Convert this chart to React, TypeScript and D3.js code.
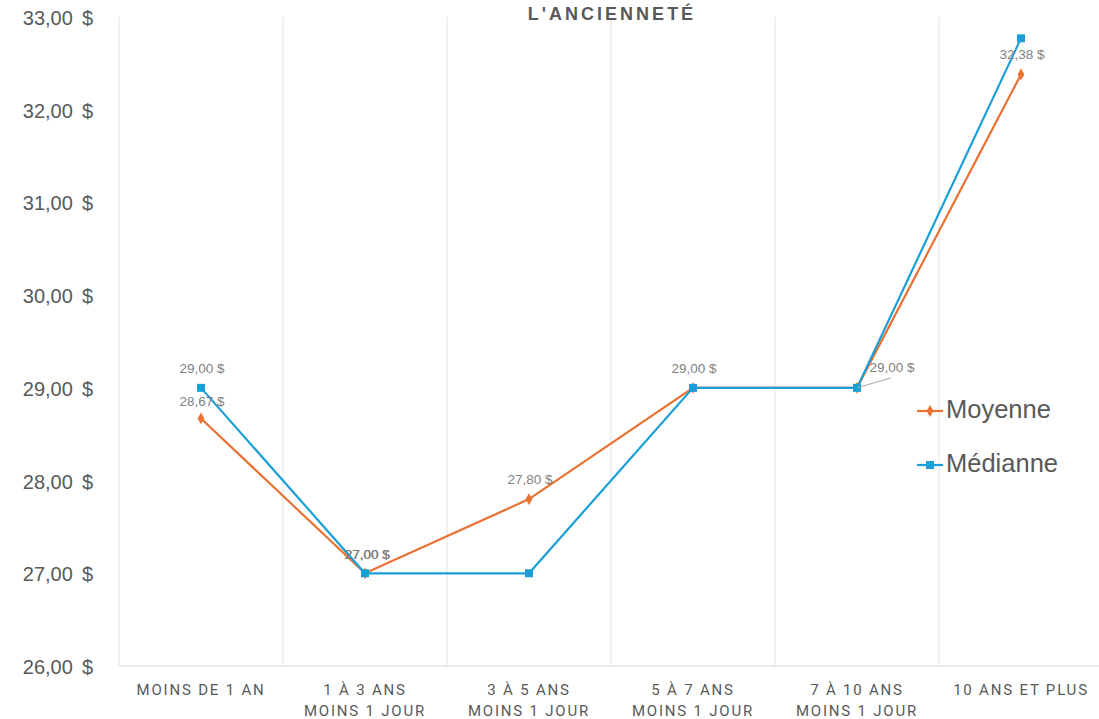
import React, { useEffect, useRef } from "react";
import * as d3 from "d3";

const categories = [
  ["MOINS DE 1 AN"],
  ["1 À 3 ANS", "MOINS 1 JOUR"],
  ["3 À 5 ANS", "MOINS 1 JOUR"],
  ["5 À 7 ANS", "MOINS 1 JOUR"],
  ["7 À 10 ANS", "MOINS 1 JOUR"],
  ["10 ANS ET PLUS"],
];
const moyenne = [28.67, 27.0, 27.8, 29.0, 29.0, 32.38];
const mediane = [29.0, 27.0, 27.0, 29.0, 29.0, 32.77];
const yTicks = [26, 27, 28, 29, 30, 31, 32, 33];

const W = 1099;
const H = 719;
const ORANGE = "#E97132";
const BLUE = "#1A9FD8";
const GREY = "#595959";

const num = (v: number) => v.toFixed(2).replace(".", ",");
const fmt = (v: number) => num(v) + " $";

const App = () => {
  const ref = useRef<SVGSVGElement>(null);

  useEffect(() => {
    const svg = d3.select(ref.current);
    svg.selectAll("*").remove();

    const x = d3.scaleBand<number>().domain(d3.range(categories.length)).range([119, 1103]);
    const cx = (i: number) => (x(i) as number) + x.bandwidth() / 2;
    const y = d3.scaleLinear().domain([26, 33]).range([666, 17]);

    // vertical gridlines
    svg.append("g").selectAll("line")
      .data(d3.range(categories.length))
      .join("line")
      .attr("x1", (i) => x(i) as number)
      .attr("x2", (i) => x(i) as number)
      .attr("y1", y(33))
      .attr("y2", y(26))
      .attr("stroke", "#e3e3e3")
      .attr("stroke-width", 1);

    svg.append("line")
      .attr("x1", 119).attr("x2", 1103)
      .attr("y1", y(26)).attr("y2", y(26))
      .attr("stroke", "#d9d9d9");

    // title
    svg.append("text")
      .attr("x", 612).attr("y", 20)
      .attr("text-anchor", "middle")
      .attr("font-family", "Liberation Sans, Arial, sans-serif")
      .attr("font-weight", "bold")
      .attr("font-size", 18)
      .attr("letter-spacing", 3)
      .attr("fill", GREY)
      .text("L'ANCIENNETÉ");

    // y labels
    const yl = svg.append("g").selectAll("text")
      .data(yTicks)
      .join("text")
      .attr("x", 93)
      .attr("y", (d) => y(d) + 8)
      .attr("text-anchor", "end")
      .attr("font-family", "Liberation Sans, Arial, sans-serif")
      .attr("font-size", 20)
      .attr("fill", GREY);
    yl.append("tspan").text((d) => num(d));
    yl.append("tspan").attr("dx", 9).text("$");

    // x labels
    const xl = svg.append("g").selectAll("text")
      .data(categories)
      .join("text")
      .attr("text-anchor", "middle")
      .attr("font-family", "Roboto, sans-serif")
      .attr("font-size", 15)
      .attr("letter-spacing", 1.8)
      .attr("fill", GREY);
    xl.each(function (lines, i) {
      d3.select(this).selectAll("tspan")
        .data(lines)
        .join("tspan")
        .attr("x", cx(i))
        .attr("y", (_, k) => 695 + k * 20.5)
        .text((t) => t);
    });

    const line = (vals: number[]) =>
      d3.line<number>().x((_, i) => cx(i)).y((v) => y(v))(vals);

    svg.append("path").attr("d", line(moyenne)).attr("fill", "none")
      .attr("stroke", ORANGE).attr("stroke-width", 2.2);
    svg.append("path").attr("d", line(mediane)).attr("fill", "none")
      .attr("stroke", BLUE).attr("stroke-width", 2.2);

    const diamond = d3.symbol().type(d3.symbolDiamond).size(40);
    svg.append("g").selectAll("path")
      .data(moyenne)
      .join("path")
      .attr("d", diamond)
      .attr("transform", (v, i) => `translate(${cx(i)},${y(v)})`)
      .attr("fill", ORANGE);
    svg.append("g").selectAll("rect")
      .data(mediane)
      .join("rect")
      .attr("x", (_, i) => cx(i) - 4)
      .attr("y", (v) => y(v) - 4)
      .attr("width", 8).attr("height", 8)
      .attr("fill", BLUE);

    // data labels
    const labels = [
      { v: mediane[0], i: 0, dx: 1, dy: -15 },
      { v: moyenne[0], i: 0, dx: 1, dy: -12 },
      { v: moyenne[1], i: 1, dx: 2, dy: -14 },
      { v: mediane[1], i: 1, dx: 2.6, dy: -14 },
      { v: moyenne[2], i: 2, dx: 1, dy: -15 },
      { v: moyenne[3], i: 3, dx: 1, dy: -15 },
      { v: moyenne[4], i: 4, dx: 35, dy: -16 },
      { v: moyenne[5], i: 5, dx: 1, dy: -15 },
    ];
    svg.append("g").selectAll("text")
      .data(labels)
      .join("text")
      .attr("x", (d) => cx(d.i) + d.dx)
      .attr("y", (d) => y(d.v) + d.dy)
      .attr("text-anchor", "middle")
      .attr("font-family", "Liberation Sans, Arial, sans-serif")
      .attr("font-size", 13.5)
      .attr("fill", "#7f7f7f")
      .text((d) => fmt(d.v));
    // leader line
    svg.append("line")
      .attr("x1", cx(4)).attr("y1", y(29))
      .attr("x2", cx(4) + 34).attr("y2", y(29) - 10)
      .attr("stroke", "#a6a6a6").attr("stroke-width", 1);

    // legend
    const leg = svg.append("g");
    const items = [
      { name: "Moyenne", color: ORANGE, kind: "d", yy: 411 },
      { name: "Médianne", color: BLUE, kind: "s", yy: 465 },
    ];
    items.forEach((it) => {
      leg.append("line").attr("x1", 917).attr("x2", 943)
        .attr("y1", it.yy).attr("y2", it.yy)
        .attr("stroke", it.color).attr("stroke-width", 2.2);
      if (it.kind === "d") {
        leg.append("path").attr("d", diamond)
          .attr("transform", `translate(930,${it.yy})`).attr("fill", it.color);
      } else {
        leg.append("rect").attr("x", 926).attr("y", it.yy - 4)
          .attr("width", 8).attr("height", 8).attr("fill", it.color);
      }
      leg.append("text").attr("x", 946).attr("y", it.yy + 7)
        .attr("font-family", "Liberation Sans, Arial, sans-serif")
        .attr("font-size", 25.5)
        .attr("fill", GREY)
        .text(it.name);
    });
  }, []);

  return (
    <svg
      ref={ref}
      width={W}
      height={H}
      style={{ position: "absolute", left: 0, top: 0, background: "#fff" }}
    />
  );
};

export default App;
